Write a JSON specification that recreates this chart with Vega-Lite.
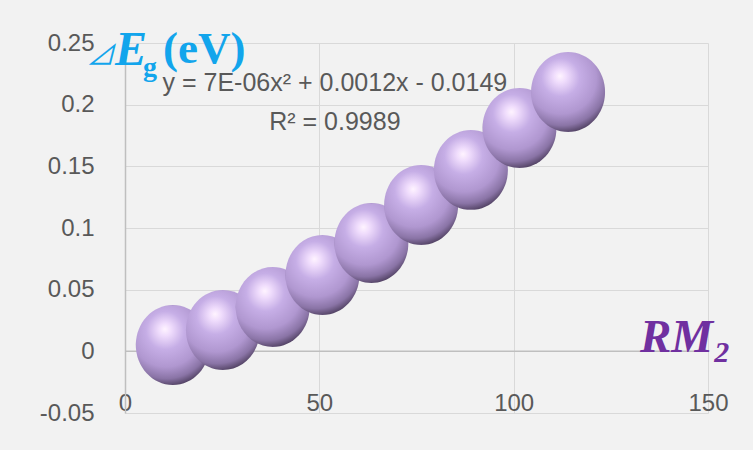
{
  "$schema": "https://vega.github.io/schema/vega-lite/v6.json",
  "width": 583,
  "height": 370,
  "autosize": "none",
  "padding": {"left": 125, "top": 43, "right": 45, "bottom": 37},
  "background": "#f2f2f2",
  "config": {"view": {"stroke": null}, "font": "Liberation Sans"},
  "layer": [
    {
      "data": {"values": [{"y": 0}]},
      "mark": {"type": "rule", "color": "#bfbfbf", "strokeWidth": 1.5},
      "encoding": {
        "y": {
          "field": "y", "type": "quantitative",
          "scale": {"domain": [-0.05, 0.25], "nice": false, "zero": false},
          "axis": {
            "values": [-0.05, 0, 0.05, 0.1, 0.15, 0.2, 0.25], "title": null, "grid": true,
            "gridColor": "#d9d9d9", "domain": true, "domainColor": "#bfbfbf", "domainWidth": 1.5,
            "ticks": false, "tickSize": 0, "labelPadding": 31, "labelFontSize": 24,
            "labelColor": "#595959", "labelFont": "Liberation Sans",
            "labelExpr": "replace(format(datum.value, '.2~f'), '−', '-')"
          }
        }
      }
    },
    {
      "data": {"values": [
        {"RM2": 12.3, "dEg": 0.0051},
        {"RM2": 25.2, "dEg": 0.0173},
        {"RM2": 38.0, "dEg": 0.0360},
        {"RM2": 50.8, "dEg": 0.0619},
        {"RM2": 63.4, "dEg": 0.0878},
        {"RM2": 76.2, "dEg": 0.1187},
        {"RM2": 89.0, "dEg": 0.1471},
        {"RM2": 101.5, "dEg": 0.1811},
        {"RM2": 114.0, "dEg": 0.2103}
      ]},
      "mark": {
        "type": "point",
        "filled": true,
        "opacity": 1,
        "size": 5476,
        "shape": "M0,-1.08A1,1.08,0,1,1,0,1.08A1,1.08,0,1,1,0,-1.08Z",
        "fill": {
          "gradient": "radial",
          "x1": 0.4, "y1": 0.3, "r1": 0,
          "x2": 0.42, "y2": 0.35, "r2": 0.68,
          "stops": [
            {"offset": 0, "color": "#fff4ff"},
            {"offset": 0.12, "color": "#efdcfc"},
            {"offset": 0.35, "color": "#c6aee6"},
            {"offset": 0.65, "color": "#b097d0"},
            {"offset": 0.85, "color": "#8a74a6"},
            {"offset": 1, "color": "#4a3b5a"}
          ]
        },
        "strokeWidth": 0
      },
      "encoding": {
        "x": {
          "field": "RM2", "type": "quantitative",
          "scale": {"domain": [0, 150], "nice": false, "zero": false},
          "axis": {
            "values": [0, 50, 100, 150], "title": null, "grid": true, "gridColor": "#d9d9d9",
            "domain": false, "ticks": false, "tickSize": 0, "labelPadding": -3,
            "labelBaseline": "alphabetic", "labelFlush": false, "labelFontSize": 24,
            "labelColor": "#595959", "labelFont": "Liberation Sans"
          }
        },
        "y": {
          "field": "dEg", "type": "quantitative",
          "scale": {"domain": [-0.05, 0.25], "nice": false, "zero": false}
        }
      }
    },
    {
      "data": {"values": [
        {"x": 54.0, "y": 0.2176, "label": "y = 7E-06x² + 0.0012x - 0.0149"},
        {"x": 54.0, "y": 0.186, "label": "R² = 0.9989"}
      ]},
      "mark": {"type": "text", "font": "Liberation Sans", "fontSize": 25, "color": "#595959", "align": "center", "baseline": "middle"},
      "encoding": {
        "x": {"field": "x", "type": "quantitative", "scale": {"domain": [0, 150], "nice": false, "zero": false}},
        "y": {"field": "y", "type": "quantitative", "scale": {"domain": [-0.05, 0.25], "nice": false, "zero": false}},
        "text": {"field": "label"}
      }
    },
    {
      "data": {"values": [{"x": -6.4, "y": 0.2386, "label": "⊿"}]},
      "mark": {"type": "text", "font": "Noto Sans CJK SC", "fontSize": 28, "fontStyle": "italic", "color": "#12a5ec", "align": "center", "baseline": "middle"},
      "encoding": {
        "x": {"field": "x", "type": "quantitative", "scale": {"domain": [0, 150], "nice": false, "zero": false}},
        "y": {"field": "y", "type": "quantitative", "scale": {"domain": [-0.05, 0.25], "nice": false, "zero": false}},
        "text": {"field": "label"}
      }
    },
    {
      "data": {"values": [{"x": -2.6, "y": 0.2322, "label": "E"}]},
      "mark": {"type": "text", "font": "Liberation Serif", "fontSize": 48, "fontStyle": "italic", "fontWeight": "bold", "color": "#12a5ec", "align": "left", "baseline": "alphabetic"},
      "encoding": {
        "x": {"field": "x", "type": "quantitative", "scale": {"domain": [0, 150], "nice": false, "zero": false}},
        "y": {"field": "y", "type": "quantitative", "scale": {"domain": [-0.05, 0.25], "nice": false, "zero": false}},
        "text": {"field": "label"}
      }
    },
    {
      "data": {"values": [{"x": 4.6, "y": 0.2232, "label": "g"}]},
      "mark": {"type": "text", "font": "Liberation Serif", "fontSize": 28, "fontWeight": "bold", "color": "#12a5ec", "align": "left", "baseline": "alphabetic"},
      "encoding": {
        "x": {"field": "x", "type": "quantitative", "scale": {"domain": [0, 150], "nice": false, "zero": false}},
        "y": {"field": "y", "type": "quantitative", "scale": {"domain": [-0.05, 0.25], "nice": false, "zero": false}},
        "text": {"field": "label"}
      }
    },
    {
      "data": {"values": [{"x": 9.8, "y": 0.2341, "label": "(eV)"}]},
      "mark": {"type": "text", "font": "Liberation Serif", "fontSize": 45, "fontWeight": "bold", "color": "#12a5ec", "align": "left", "baseline": "alphabetic"},
      "encoding": {
        "x": {"field": "x", "type": "quantitative", "scale": {"domain": [0, 150], "nice": false, "zero": false}},
        "y": {"field": "y", "type": "quantitative", "scale": {"domain": [-0.05, 0.25], "nice": false, "zero": false}},
        "text": {"field": "label"}
      }
    },
    {
      "data": {"values": [{"x": 132.5, "y": -0.0006, "label": "RM"}]},
      "mark": {"type": "text", "font": "Liberation Serif", "fontSize": 47, "fontStyle": "italic", "fontWeight": "bold", "color": "#7030a0", "align": "left", "baseline": "alphabetic"},
      "encoding": {
        "x": {"field": "x", "type": "quantitative", "scale": {"domain": [0, 150], "nice": false, "zero": false}},
        "y": {"field": "y", "type": "quantitative", "scale": {"domain": [-0.05, 0.25], "nice": false, "zero": false}},
        "text": {"field": "label"}
      }
    },
    {
      "data": {"values": [{"x": 151.6, "y": -0.0085, "label": "2"}]},
      "mark": {"type": "text", "font": "Liberation Serif", "fontSize": 30, "fontStyle": "italic", "fontWeight": "bold", "color": "#7030a0", "align": "left", "baseline": "alphabetic"},
      "encoding": {
        "x": {"field": "x", "type": "quantitative", "scale": {"domain": [0, 150], "nice": false, "zero": false}},
        "y": {"field": "y", "type": "quantitative", "scale": {"domain": [-0.05, 0.25], "nice": false, "zero": false}},
        "text": {"field": "label"}
      }
    }
  ]
}
